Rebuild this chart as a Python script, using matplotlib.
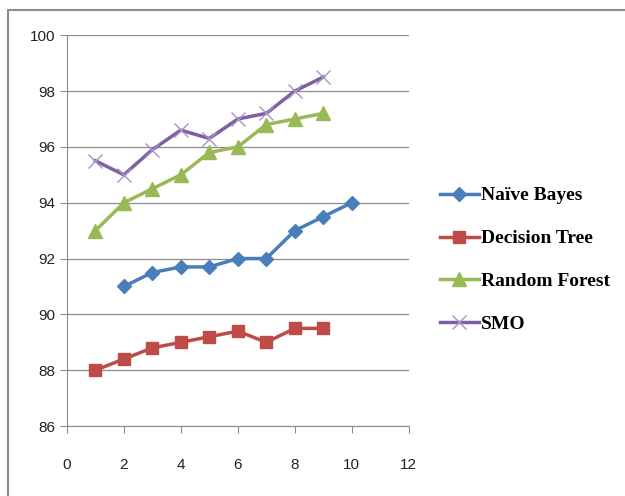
import matplotlib
matplotlib.use("Agg")
import matplotlib.pyplot as plt
from matplotlib.patches import Rectangle

# data
nb_x = [2, 3, 4, 5, 6, 7, 8, 9, 10]
nb_y = [91.0, 91.5, 91.7, 91.7, 92.0, 92.0, 93.0, 93.5, 94.0]
dt_x = [1, 2, 3, 4, 5, 6, 7, 8, 9]
dt_y = [88.0, 88.4, 88.8, 89.0, 89.2, 89.4, 89.0, 89.5, 89.5]
rf_x = [1, 2, 3, 4, 5, 6, 7, 8, 9]
rf_y = [93.0, 94.0, 94.5, 95.0, 95.8, 96.0, 96.8, 97.0, 97.2]
smo_x = [1, 2, 3, 4, 5, 6, 7, 8, 9]
smo_y = [95.5, 95.0, 95.9, 96.6, 96.3, 97.0, 97.2, 98.0, 98.5]

fig = plt.figure(figsize=(6.25, 4.96), dpi=100)
ax = fig.add_axes([0.107, 0.141, 0.547, 0.788])

# outer chart frame (cut off at the right and bottom)
fig.patches.append(Rectangle((0.013, -0.05), 1.1, 1.03, transform=fig.transFigure,
                             fill=False, edgecolor="#8c8c8c", linewidth=1.5))

ax.plot(nb_x, nb_y, color="#4A7EBB", lw=2.5, marker="D", ms=7, label="Naïve Bayes")
ax.plot(dt_x, dt_y, color="#BE4B48", lw=2.5, marker="s", ms=9, label="Decision Tree")
ax.plot(rf_x, rf_y, color="#98B954", lw=2.5, marker="^", ms=10, label="Random Forest")
ax.plot(smo_x, smo_y, color="#7D60A0", lw=2.5, marker="x", ms=10, mew=1,
        mec="#A892C8", label="SMO")

ax.set_xlim(0, 12)
ax.set_ylim(86, 100)
ax.set_xticks(range(0, 13, 2))
ax.set_yticks(range(86, 101, 2))
ax.yaxis.grid(True, color="#8c8c8c", lw=0.9)
ax.set_axisbelow(True)
for side in ["top", "right"]:
    ax.spines[side].set_visible(False)
for side in ["left", "bottom"]:
    ax.spines[side].set_color("#8c8c8c")
ax.tick_params(colors="#8c8c8c", labelcolor="#222222", labelsize=11, length=5)
ax.tick_params(axis="x", pad=18)
for lab in ax.get_xticklabels() + ax.get_yticklabels():
    lab.set_family("Liberation Sans")

ax.legend(loc="center left", bbox_to_anchor=(1.04, 0.425), frameon=False,
          prop={"family": "Liberation Serif", "weight": "bold", "size": 14},
          handlelength=2.0, handletextpad=0.1, labelspacing=1.3)

fig.savefig("out.png", dpi=100)
